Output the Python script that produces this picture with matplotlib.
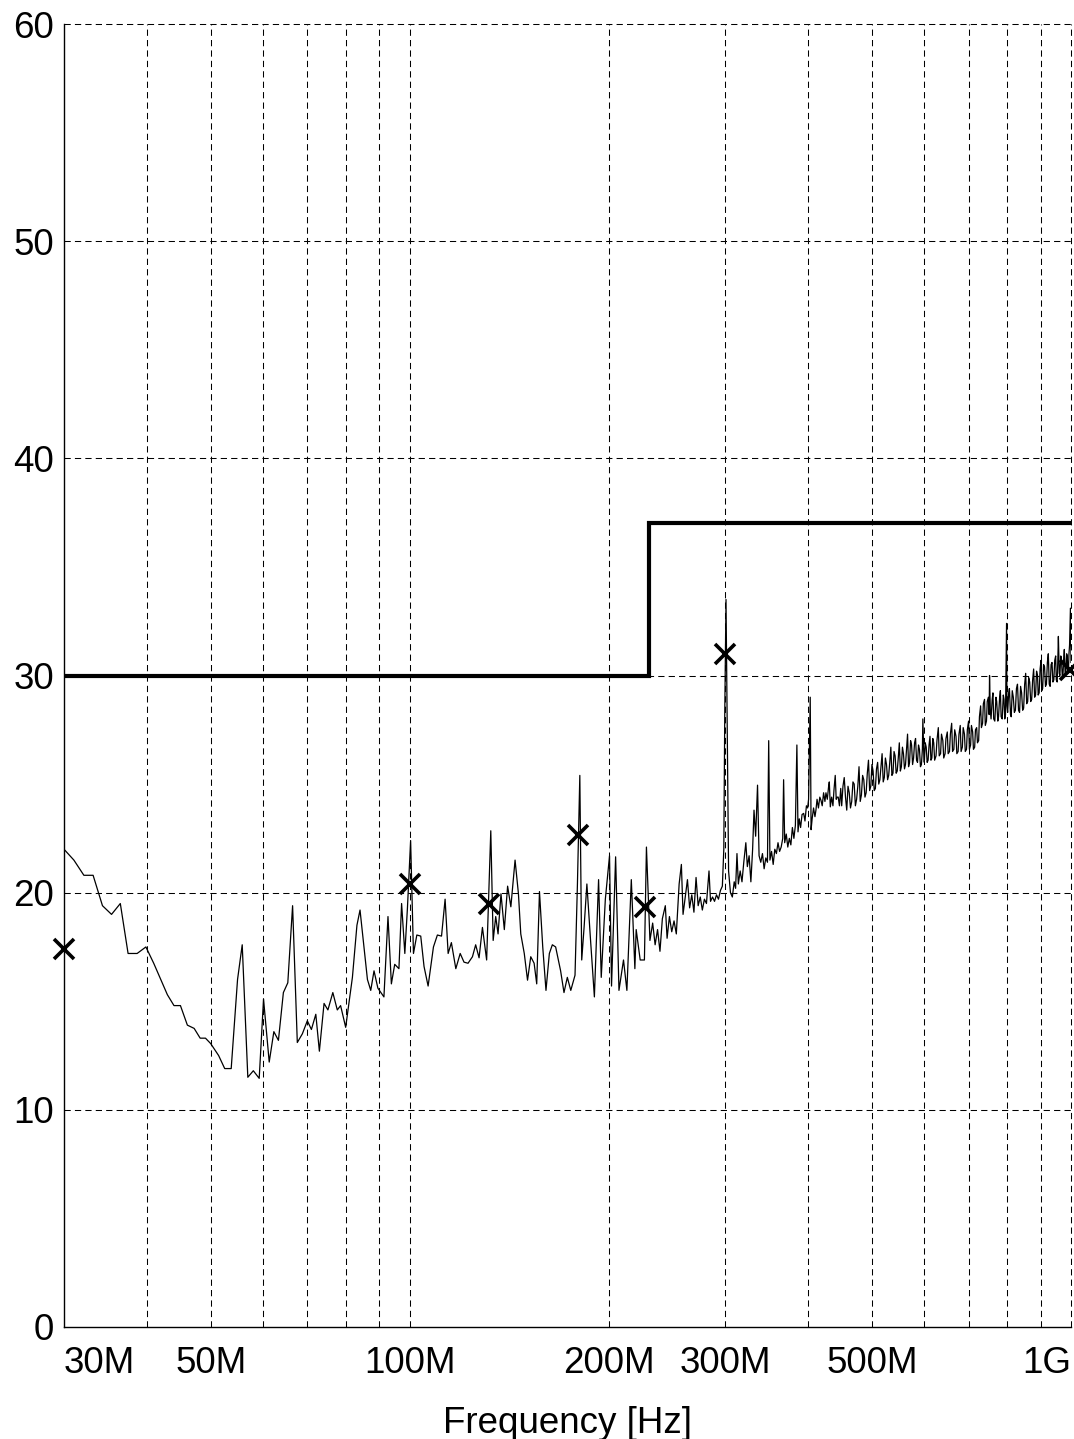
import matplotlib
matplotlib.use("Agg")
import matplotlib.pyplot as plt
from matplotlib.ticker import NullLocator

# Measured spectrum: frequency in MHz, level in dB
trace_low_mhz = [30.0, 31.05, 32.15, 33.2, 34.3, 35.4, 36.5, 37.5, 38.7, 39.9, 41.0, 43.0, 44.0, 45.0,
                 46.1, 47.2, 48.2, 49.1, 50.0, 51.4, 52.5, 53.7, 54.9, 55.8, 56.9, 58.0, 59.2, 60.1,
                 61.3, 62.3, 63.3, 64.4, 65.4, 66.5, 67.6, 68.8, 70.0, 71.0, 72.1, 73.0, 74.2, 75.2,
                 76.5, 77.7, 78.6, 80.0, 81.9, 83.2, 84.1, 86.3, 87.3, 88.3, 89.5, 91.4, 92.7, 93.8,
                 94.9, 96.3, 97.2, 98.3, 99.2, 100.3, 101.3, 102.5]
trace_low_db = [22.0, 21.5, 20.8, 20.8, 19.4, 19.0, 19.5, 17.2, 17.2, 17.5, 16.75, 15.3, 14.8, 14.8,
                13.9, 13.75, 13.3, 13.3, 13.05, 12.5, 11.9, 11.9, 16.0, 17.6, 11.5, 11.8, 11.45, 15.1,
                12.2, 13.6, 13.2, 15.4, 15.85, 19.4, 13.1, 13.5, 14.1, 13.7, 14.4, 12.7, 14.9, 14.6,
                15.4, 14.6, 14.8, 13.8, 16.1, 18.5, 19.2, 16.0, 15.5, 16.4, 15.6, 15.2, 18.9, 15.8,
                16.7, 16.5, 19.5, 17.2, 19.3, 22.4, 17.2, 18.05]

trace_mid_mhz = [103.9, 105.1, 106.6, 108.6, 110.1, 111.7, 113.1, 114.3, 115.6, 117.4, 119.2, 120.8,
                 122.5, 124.4, 125.8, 127.3, 128.8, 130.7, 132.6, 133.7, 134.9, 136.0, 137.4, 139.0,
                 140.6, 142.2, 144.3, 146.0, 147.2, 149.0, 150.7, 152.4, 154.2, 155.6, 157.1, 158.9,
                 160.7, 162.6, 164.3, 166.2, 169.1, 171.1, 173.1, 175.2, 177.8, 179.3, 180.8, 182.0,
                 183.5, 185.3, 187.5, 190.2, 193.0, 194.8, 197.6, 200.5, 201.9, 204.8, 207.2, 210.5,
                 213.0, 216.3, 219.0, 220.0, 223.1, 226.4, 228.0]
trace_mid_db = [18.0, 16.6, 15.7, 17.5, 18.05, 18.0, 19.7, 17.2, 17.7, 16.5, 17.2, 16.8,
                16.75, 17.05, 17.6, 17.0, 18.4, 16.9, 22.85, 17.8, 18.9, 18.1, 19.95, 18.3,
                20.3, 19.35, 21.5, 19.95, 18.1, 17.2, 15.97, 17.05, 16.75, 15.8, 20.05, 17.5,
                15.5, 17.2, 17.6, 17.5, 16.4, 15.4, 16.1, 15.5, 16.2, 20.4, 25.4, 16.9,
                18.4, 20.4, 18.0, 15.2, 20.6, 16.1, 19.7, 21.7, 15.7, 21.65, 15.5, 16.9,
                15.5, 20.6, 16.5, 18.3, 16.9, 16.9, 22.1]

trace_high_mhz = [230.8, 233, 235, 237, 239, 241, 243.5, 245, 247, 249, 251, 253, 255.5, 257.5, 259,
                  261, 263, 265, 267, 269, 271, 273, 275, 277, 279, 281, 283.5, 285, 287, 289, 291,
                  293, 295, 297, 298.5, 299.5, 300.8, 302, 303.5, 305.5, 307.5, 309.5, 311, 312.5,
                  314, 316, 318, 320, 322.3, 324, 326, 328, 330, 331.6, 333.5, 335.7, 337.5, 339.5,
                  341.5, 343.5, 345.5, 347.5, 349, 350.5, 352.5, 354.5, 356.5, 358.5, 360.5, 362.5,
                  364.5, 366.5, 367.6, 369, 371, 373, 375, 377, 379, 381, 383, 385, 386.5, 388.2,
                  390, 392, 394.2, 396, 398, 399.7, 401, 403.3, 404.5, 406, 408, 410, 411.4, 413,
                  415, 417, 418.7, 420.5, 422.5, 424.5, 426, 428, 430, 431, 432.5, 434.5, 436.5,
                  438, 440, 441.5, 443, 444.6, 446.5, 448.5]
trace_high_db = [17.8, 18.6, 17.6, 18.3, 17.3, 18.8, 19.4, 17.9, 18.9, 18.2, 18.7, 18.1, 20.4, 21.3, 19.0,
                 19.8, 20.6, 19.3, 19.9, 19.1, 20.7, 19.4, 19.8, 19.2, 19.7, 19.5, 21.0, 19.6, 19.8, 19.6, 19.9,
                 19.7, 20.1, 20.3, 22.0, 28.3, 33.5, 28.0, 21.0, 20.0, 19.8, 20.5, 20.2, 21.8,
                 20.4, 21.0, 20.5, 21.4, 22.3, 21.2, 21.7, 20.5, 22.0, 23.8, 22.6, 24.95, 21.7, 21.4,
                 21.8, 21.1, 21.6, 21.4, 27.0, 21.5, 21.9, 21.3, 22.0, 21.8, 22.3, 21.9,
                 22.1, 22.5, 25.2, 22.3, 22.7, 22.1, 22.5, 22.2, 23.0, 22.5, 23.1, 26.8, 22.8, 23.4,
                 23.0, 23.6, 23.65, 23.3, 24.0, 23.9, 24.3, 29.0, 22.9, 23.4, 23.9, 23.5, 23.8, 24.3,
                 23.9, 24.4, 24.25, 24.0, 24.6, 24.2, 24.6, 24.3, 24.9, 25.1, 23.95, 24.4, 24.0,
                 24.7, 25.4, 24.3, 24.4, 24.4, 24.0, 24.8]

trace_top_mhz = [
    450, 452, 454, 456, 458, 460, 462, 464, 466, 468,
    470, 472, 474, 476, 478, 480, 482, 484, 486, 488,
    490, 492, 494, 496, 498, 500, 502, 504, 506, 508,
    510, 512, 514, 516, 518, 520, 522, 524, 526, 528,
    530, 532, 534, 536, 538, 540, 542, 544, 546, 548,
    550, 552, 554, 556, 558, 560, 562, 564, 566, 568,
    570, 572, 574, 576, 578, 580, 582, 584, 586, 588,
    590, 592, 594, 596, 597, 599, 600, 602, 604, 606,
    608, 610, 612, 614, 616, 618, 620, 622, 625, 627,
    630, 632, 635, 637, 640, 642, 645, 647, 650, 652,
    655, 657, 660, 662, 665, 667, 670, 672, 675, 677,
    680, 682, 685, 687, 690, 692, 695, 697, 700, 702,
    705, 707, 710, 712, 715, 717, 720, 722, 725, 727,
    730, 732, 735, 737, 740, 742, 745, 747, 750, 752,
    753, 755, 757, 760, 762, 764, 767, 770, 772, 775,
    777, 780, 782, 784, 787, 790, 792, 794, 796, 799,
    800, 802, 805, 807, 810, 812, 815, 818, 821, 824,
    827, 830, 833, 836, 839, 842, 845, 848, 851, 854,
    857, 860, 863, 866, 869, 872, 875, 878, 881, 884,
    887, 890, 892, 895, 898, 901, 903, 906, 909, 912,
    915, 918, 921, 924, 927, 930, 933, 936, 939, 942,
    945, 948, 950, 953, 955, 957, 960, 962, 965, 967,
    970, 972, 975, 977, 980, 982, 985, 987, 989, 991,
    993, 995, 998, 1000]
trace_top_db = [
    24.0, 24.9, 25.3, 24.4, 23.8, 24.9, 24.6, 23.9, 24.2, 25.1,
    25.0, 24.0, 24.3, 24.9, 25.8, 24.2, 24.5, 25.4, 25.2, 24.4,
    24.6, 25.5, 26.1, 24.7, 24.9, 25.9, 25.6, 24.7, 24.8, 25.7,
    26.0, 25.0, 25.2, 25.8, 26.4, 25.1, 25.3, 26.2, 25.9, 25.2,
    25.4, 26.0, 26.7, 25.4, 25.5, 26.5, 26.3, 25.5, 25.6, 26.2,
    26.9, 25.6, 25.8, 26.7, 26.4, 25.7, 25.9, 26.6, 27.3, 25.8,
    26.0, 27.0, 26.8, 25.9, 26.2, 26.9, 27.1, 26.1, 26.0, 26.8,
    26.6, 25.8, 25.9, 26.6, 28.0, 26.3, 26.0, 26.9, 26.7, 26.0,
    26.1, 26.8, 27.2, 26.1, 26.2, 27.1, 26.9, 26.1, 26.3, 27.0,
    27.6, 26.3, 26.4, 27.3, 27.0, 26.2, 26.4, 27.1, 27.4, 26.4,
    26.5, 27.3, 27.8, 26.5, 26.6, 27.5, 27.2, 26.4, 26.5, 27.3,
    27.7, 26.5, 26.7, 27.6, 27.3, 26.5, 26.6, 27.5, 27.9, 26.6,
    26.8, 27.7, 27.4, 26.6, 26.7, 27.5, 27.6, 26.9, 27.0, 28.1,
    28.6, 27.6, 27.8, 28.7, 28.9, 27.7, 27.9, 28.8, 29.0, 28.2,
    30.0, 28.4, 28.0, 28.9, 29.2, 28.0, 27.9, 29.0, 28.8, 27.9,
    28.1, 29.0, 29.3, 28.1, 28.0, 29.1, 28.9, 28.0, 28.2, 32.4,
    28.6, 28.3, 29.2, 29.4, 28.2, 28.1, 29.3, 29.0, 28.3, 28.4,
    29.4, 29.6, 28.4, 28.3, 29.5, 29.2, 28.4, 28.5, 29.6, 30.1,
    28.7, 28.8, 29.9, 29.7, 28.8, 28.9, 29.8, 30.3, 29.0, 29.1,
    30.2, 30.0, 29.1, 29.2, 30.3, 30.7, 29.3, 29.4, 30.5, 30.4,
    29.5, 29.6, 30.6, 31.0, 29.6, 29.5, 30.5, 30.6, 29.7, 29.8,
    30.7, 30.9, 29.8, 29.7, 30.6, 31.8, 30.1, 30.0, 30.9, 30.8,
    30.0, 29.9, 30.8, 31.2, 30.0, 30.1, 31.0, 30.9, 30.1, 30.2,
    31.0, 31.4, 33.1, 30.6]

trace_mhz = trace_low_mhz + trace_mid_mhz + trace_high_mhz + trace_top_mhz
trace_db = trace_low_db + trace_mid_db + trace_high_db + trace_top_db

# Quasi-peak results
qp_mhz = [30.0, 100.1, 132.0, 179.8, 227.0, 300.0, 995.0]
qp_db = [17.4, 20.4, 19.5, 22.65, 19.35, 31.0, 30.25]

# Limit line
limit_mhz = [30, 230, 230, 1000]
limit_db = [30, 30, 37, 37]

# Axis ticks and grid
x_label_mhz = [30, 50, 100, 200, 300, 500, 1000]
x_label_text = ["30M", "50M", "100M", "200M", "300M", "500M", "1G"]
x_grid_mhz = [40, 50, 60, 70, 80, 90, 100, 200, 300, 400, 500, 600, 700, 800, 900, 1000]
y_ticks = [0, 10, 20, 30, 40, 50, 60]
y_grid = [10, 20, 30, 40, 50, 60]

plt.rcParams['font.family'] = ['Liberation Sans', 'DejaVu Sans']

W, H = 1074, 1439
fig = plt.figure(figsize=(W / 100, H / 100), dpi=100)
left, right, top, bottom = 64, 1071, 24, 1327
ax = fig.add_axes([left / W, 1 - bottom / H, (right - left) / W, (bottom - top) / H])
ax.set_xscale('log')
ax.set_xlim(30, 1000)
ax.set_ylim(0, 60)

dash = (0, (6, 4))
for f in x_grid_mhz:
    ax.axvline(f, color='black', lw=0.75, ls=dash, zorder=1, clip_on=False)
for v in y_grid:
    ax.axhline(v, color='black', lw=0.75, ls=dash, zorder=1, clip_on=False)

ax.plot(trace_mhz, trace_db, color='black', lw=0.9, zorder=3)
ax.plot(limit_mhz, limit_db, color='black', lw=3.0, zorder=4, solid_joinstyle='miter')
ax.plot(qp_mhz, qp_db, ls='none', marker='x', ms=14, mew=2.6, color='black',
        zorder=5, clip_on=False)

for side in ('top', 'right'):
    ax.spines[side].set_visible(False)
for side in ('left', 'bottom'):
    ax.spines[side].set_linewidth(1.0)
    ax.spines[side].set_color('black')

ax.xaxis.set_minor_locator(NullLocator())
ax.set_xticks(x_label_mhz)
ax.set_xticklabels(x_label_text)
ax.set_yticks(y_ticks)
ax.tick_params(axis='both', length=0, labelsize=26.5, colors='black')
ax.tick_params(axis='x', pad=14)
ax.tick_params(axis='y', pad=7)
xt = ax.get_xticklabels()
xt[0].set_horizontalalignment('left')
xt[-1].set_horizontalalignment('right')

ax.set_xlabel("Frequency [Hz]", fontsize=26.5, labelpad=18)

fig.savefig("out.png", dpi=100)
